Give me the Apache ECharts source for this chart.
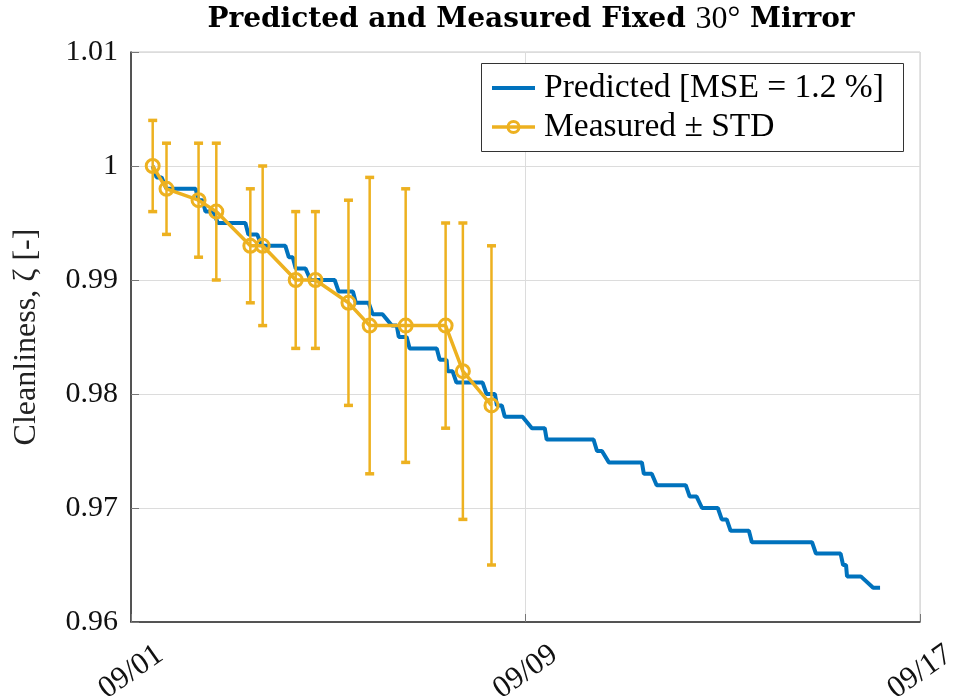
<!DOCTYPE html>
<html>
<head>
<meta charset="utf-8">
<script src="https://cdn.jsdelivr.net/npm/echarts@6/dist/echarts.min.js"></script>
<style>html,body{margin:0;padding:0;background:#fff;}#c{width:956px;height:700px;}</style>
</head>
<body>
<div id="c"></div>
<script>
// ---- data (x = days since 09/01) ----
const xTickDays = [0, 8, 16];
const xTickLabels = ['09/01', '09/09', '09/17'];
const yTicks = [0.96, 0.97, 0.98, 0.99, 1, 1.01];

const predDays = [0.44,0.52,0.62,0.72,1.31,1.37,1.45,1.51,1.67,1.76,2.32,2.38,2.56,2.65,3.13,3.20,3.28,3.34,3.54,3.64,4.13,4.21,4.50,4.56,4.82,4.90,5.10,5.29,5.39,5.43,5.59,5.65,6.20,6.26,6.40,6.42,6.52,6.60,7.13,7.21,7.38,7.42,7.52,7.58,7.94,8.13,8.39,8.43,9.38,9.45,9.55,9.69,10.36,10.40,10.56,10.66,11.25,11.33,11.47,11.58,11.90,11.98,12.08,12.16,12.53,12.59,13.81,13.89,14.39,14.44,14.50,14.52,14.80,15.05,15.19];
const predValues = [1.000,0.999,0.999,0.998,0.998,0.997,0.997,0.996,0.996,0.995,0.995,0.994,0.994,0.993,0.993,0.992,0.992,0.991,0.991,0.990,0.990,0.989,0.989,0.988,0.988,0.987,0.987,0.986,0.986,0.985,0.985,0.984,0.984,0.983,0.983,0.982,0.982,0.981,0.981,0.980,0.980,0.979,0.979,0.978,0.978,0.977,0.977,0.976,0.976,0.975,0.975,0.974,0.974,0.973,0.973,0.972,0.972,0.971,0.971,0.970,0.970,0.969,0.969,0.968,0.968,0.967,0.967,0.966,0.966,0.965,0.965,0.964,0.964,0.963,0.963];

const measDays = [0.44,0.72,1.37,1.73,2.42,2.67,3.34,3.74,4.41,4.84,5.57,6.38,6.73,7.31];
const measValues = [1.000,0.998,0.997,0.996,0.993,0.993,0.990,0.990,0.988,0.986,0.986,0.986,0.982,0.979];
const measStd = [0.004,0.004,0.005,0.006,0.005,0.007,0.006,0.006,0.009,0.013,0.012,0.009,0.013,0.014];

const predName = 'Predicted [MSE = 1.2 %]';
const measName = 'Measured ± STD';

const BLUE = '#0072BD', YELLOW = '#EDB120';
const FONT = 'Liberation Serif';

const predData = predDays.map((d, i) => [d, predValues[i]]);
const measData = measDays.map((d, i) => [d, measValues[i]]);
const errData = measDays.map((d, i) => [d, measValues[i] - measStd[i], measValues[i] + measStd[i]]);

const chart = echarts.init(document.getElementById('c'), null, {renderer: 'canvas'});
chart.setOption({
  backgroundColor: '#fff',
  animation: false,
  title: {
    text: 'Predicted and Measured Fixed {n|30°} Mirror',
    left: 526, top: -1, textAlign: 'center',
    textStyle: {fontFamily: 'DejaVu Serif', fontWeight: 'bold', fontSize: 28, color: '#000',
      rich: {n: {fontFamily: FONT, fontWeight: 'normal', fontSize: 32, color: '#000'}}}
  },
  grid: {left: 131, right: 36, top: 52, bottom: 78, show: true, borderColor: '#c8c8c8', borderWidth: 1,
    containLabel: false, outerBoundsMode: 'none'},
  graphic: [
    {type: 'rect', left: 481, top: 63, z: 100,
      shape: {width: 422, height: 88}, style: {fill: '#fff', stroke: '#333', lineWidth: 1}},
    {type: 'line', z: 101, shape: {x1: 492, y1: 88, x2: 535, y2: 88}, style: {stroke: BLUE, lineWidth: 4}},
    {type: 'text', z: 101, x: 544, y: 88, style: {text: predName, fontFamily: FONT, fontSize: 33.5, fill: '#000', verticalAlign: 'middle'}},
    {type: 'line', z: 101, shape: {x1: 492, y1: 127, x2: 535, y2: 127}, style: {stroke: YELLOW, lineWidth: 3.5}},
    {type: 'circle', z: 102, shape: {cx: 513.5, cy: 127, r: 5.5}, style: {fill: 'rgba(0,0,0,0)', stroke: YELLOW, lineWidth: 3}},
    {type: 'text', z: 101, x: 544, y: 127, style: {text: measName, fontFamily: FONT, fontSize: 33.5, fill: '#000', verticalAlign: 'middle'}}
  ],
  xAxis: {
    type: 'value', min: 0, max: 16, interval: 8,
    axisLine: {show: true, lineStyle: {color: '#262626', width: 1.5}},
    axisTick: {show: true, inside: true, length: 8, lineStyle: {color: '#777'}},
    splitLine: {show: true, lineStyle: {color: '#dcdcdc', width: 1}},
    axisLabel: {
      fontFamily: FONT, fontSize: 31, color: '#111', rotate: 35, margin: 50,
      align: 'center', verticalAlign: 'middle', hideOverlap: false,
      formatter: v => { const k = xTickDays.indexOf(v); return k >= 0 ? xTickLabels[k] : ''; }
    }
  },
  yAxis: {
    type: 'value', min: yTicks[0], max: yTicks[yTicks.length - 1], interval: 0.01,
    name: 'Cleanliness, ζ [-]', nameLocation: 'middle', nameGap: 88,
    nameTextStyle: {fontFamily: FONT, fontSize: 32, color: '#222'},
    axisLine: {show: true, lineStyle: {color: '#262626', width: 1.5}},
    axisTick: {show: true, inside: true, length: 8, lineStyle: {color: '#777'}},
    splitLine: {show: true, lineStyle: {color: '#dcdcdc', width: 1}},
    axisLabel: {fontFamily: FONT, fontSize: 30, color: '#111', margin: 13,
      formatter: v => String(+v.toFixed(2))}
  },
  series: [
    {
      name: predName, type: 'line', data: predData, showSymbol: false, symbol: 'none',
      lineStyle: {color: BLUE, width: 4}, itemStyle: {color: BLUE}, z: 2
    },
    {
      name: 'err', type: 'custom', data: errData, z: 3,
      encode: {x: 0, y: [1, 2]},
      renderItem: (params, api) => {
        const x = api.value(0);
        const pLo = api.coord([x, api.value(1)]);
        const pHi = api.coord([x, api.value(2)]);
        const w = 4.5;
        const st = {stroke: YELLOW, lineWidth: 2.5};
        return {type: 'group', children: [
          {type: 'line', shape: {x1: pHi[0], y1: pHi[1], x2: pLo[0], y2: pLo[1]}, style: st},
          {type: 'line', shape: {x1: pHi[0] - w, y1: pHi[1], x2: pHi[0] + w, y2: pHi[1]}, style: {stroke: YELLOW, lineWidth: 3.5}},
          {type: 'line', shape: {x1: pLo[0] - w, y1: pLo[1], x2: pLo[0] + w, y2: pLo[1]}, style: {stroke: YELLOW, lineWidth: 3.5}}
        ]};
      }
    },
    {
      name: measName, type: 'line', data: measData,
      symbol: 'circle', symbolSize: 13, showSymbol: true,
      lineStyle: {color: YELLOW, width: 3.5},
      itemStyle: {color: 'rgba(255,255,255,0)', borderColor: YELLOW, borderWidth: 3}, z: 4
    }
  ]
});
</script>
</body>
</html>
